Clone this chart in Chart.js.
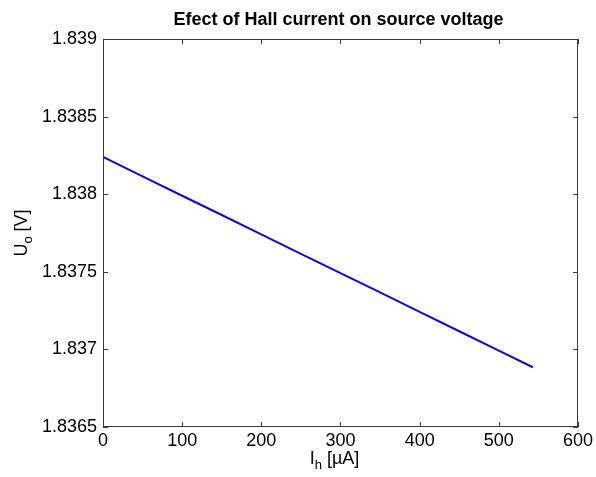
<!DOCTYPE html>
<html>
<head>
<meta charset="utf-8">
<script src="https://cdn.jsdelivr.net/npm/chart.js@4"></script>
<style>
  body { margin: 0; background: #fff; }
  #wrap { width: 596px; height: 477px; }
</style>
</head>
<body>
<div id="wrap"><canvas id="chart" width="596" height="477"></canvas></div>
<script>
// Hall current [uA] vs source voltage [V]
const current = [0, 50, 100, 150, 200, 250, 300, 350, 400, 450, 500, 543];
const voltage = [1.838240, 1.838115, 1.837990, 1.837866, 1.837741, 1.837616,
                 1.837491, 1.837367, 1.837242, 1.837117, 1.836992, 1.836885];
const xTicks = [0, 100, 200, 300, 400, 500, 600];
const yTicks = [1.8365, 1.837, 1.8375, 1.838, 1.8385, 1.839];
const titleText = "Efect of Hall current on source voltage";

const FONT = '"Liberation Sans", Arial, sans-serif';
Chart.defaults.font.family = FONT;

// MATLAB-like box with inward ticks plus title and axis labels with subscripts
const matlabFrame = {
  id: "matlabFrame",
  beforeDatasetsDraw(chart) {
    const { ctx, chartArea: a, scales: { x, y } } = chart;
    ctx.save();
    ctx.strokeStyle = "#3a3a3a";
    ctx.lineWidth = 1;
    ctx.beginPath();
    xTicks.forEach((v) => {
      const px = Math.round(x.getPixelForValue(v)) + 0.5;
      ctx.moveTo(px, a.bottom); ctx.lineTo(px, a.bottom - 5);
      ctx.moveTo(px, a.top); ctx.lineTo(px, a.top + 5);
    });
    yTicks.forEach((v) => {
      const py = Math.round(y.getPixelForValue(v)) + 0.5;
      ctx.moveTo(a.left, py); ctx.lineTo(a.left + 5, py);
      ctx.moveTo(a.right, py); ctx.lineTo(a.right - 5, py);
    });
    ctx.stroke();
    ctx.strokeRect(a.left + 0.5, a.top + 0.5, a.right - a.left - 1, a.bottom - a.top - 1);
    ctx.restore();
  },
  afterDraw(chart) {
    const { ctx, chartArea: a } = chart;
    ctx.save();
    ctx.fillStyle = "#000";
    ctx.textBaseline = "alphabetic";

    // title
    ctx.font = "bold 18px " + FONT;
    ctx.textAlign = "center";
    ctx.fillText(titleText, (a.left + a.right) / 2 - 2, 25);

    // label pieces: [text, size, baseline shift]
    const drawParts = (parts, cx, cy) => {
      ctx.textAlign = "left";
      let w = 0;
      parts.forEach((p) => { ctx.font = p[1] + "px " + FONT; w += ctx.measureText(p[0]).width; });
      let px = cx - w / 2;
      parts.forEach((p) => {
        ctx.font = p[1] + "px " + FONT;
        ctx.fillText(p[0], px, cy + p[2]);
        px += ctx.measureText(p[0]).width;
      });
    };

    // x label: I_h [uA]
    drawParts([["I", 18, 0], ["h", 13, 5], [" [\u00B5A]", 18, 0]], (a.left + a.right) / 2 - 6, 464);

    // y label: U_o [V]
    ctx.translate(27, (a.top + a.bottom) / 2);
    ctx.rotate(-Math.PI / 2);
    drawParts([["U", 18, 0], ["o", 13, 5], [" [V]", 18, 0]], 0, 0);
    ctx.restore();
  }
};

new Chart(document.getElementById("chart"), {
  type: "line",
  data: {
    datasets: [{
      data: current.map((c, i) => ({ x: c, y: voltage[i] })),
      borderColor: "#0a0ae6",
      borderWidth: 2,
      pointRadius: 0,
      tension: 0,
      fill: false
    }]
  },
  options: {
    responsive: false,
    animation: false,
    layout: { padding: { top: 39, right: 16, bottom: 0, left: 0 } },
    plugins: { legend: { display: false }, tooltip: { enabled: false }, title: { display: false } },
    scales: {
      x: {
        type: "linear",
        min: 0,
        max: 600,
        afterBuildTicks: (s) => { s.ticks = xTicks.map((v) => ({ value: v })); },
        afterFit: (s) => { s.height = 50; },
        ticks: { color: "#000", font: { size: 18 }, padding: 3, maxRotation: 0, autoSkip: false,
                 callback: (v) => String(v) },
        grid: { display: false, drawTicks: false },
        border: { display: false }
      },
      y: {
        type: "linear",
        min: 1.8365,
        max: 1.839,
        afterBuildTicks: (s) => { s.ticks = yTicks.map((v) => ({ value: v })); },
        afterFit: (s) => { s.width = 103; },
        ticks: { color: "#000", font: { size: 18 }, padding: 6, autoSkip: false,
                 callback: (v) => String(parseFloat(v.toFixed(4))) },
        grid: { display: false, drawTicks: false },
        border: { display: false }
      }
    }
  },
  plugins: [matlabFrame]
});
</script>
</body>
</html>
